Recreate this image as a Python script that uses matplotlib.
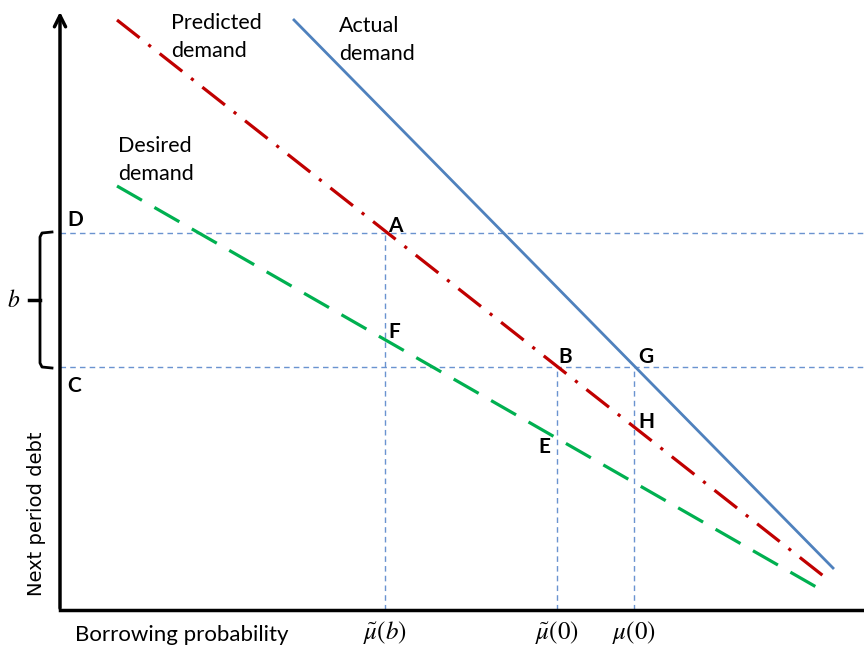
import numpy as np
import matplotlib.pyplot as plt

plt.rcParams["font.family"] = ["Lato", "DejaVu Sans"]
plt.rcParams["mathtext.fontset"] = "stix"

# coordinates: x from the y-axis, y from the x-axis (arbitrary units)
predicted_x = [57, 766]
predicted_y = [590, 32]
actual_x = [234, 773]
actual_y = [590, 42]
desired_x = [57, 758]
desired_y = [424, 22]

level_D = 377
level_C = 243
mu_tilde_b = 325
mu_tilde_0 = 497
mu_0 = 574
x_max = 804
y_max = 600

tick_pos = [mu_tilde_b, mu_tilde_0, mu_0]
tick_labels = [r"$\tilde{\mu}(b)$", r"$\tilde{\mu}(0)$", r"$\mu(0)$"]

point_names = ["D", "A", "F", "B", "G", "H", "E", "C"]
point_x = [7, 328, 328, 498, 578, 578, 478, 7]
point_y = [384, 378, 272, 247, 247, 182, 157, 218]

RED = "#C00000"
BLUE = "#4F81BD"
GREEN = "#00B050"
GUIDE = "#6A93D0"

fig = plt.figure(figsize=(8.64, 6.46), dpi=100)
ax = fig.add_axes([60 / 864, 36 / 646, 804 / 864, 600 / 646])
ax.set_xlim(0, x_max)
ax.set_ylim(0, y_max)
for s in ["top", "right", "left"]:
    ax.spines[s].set_visible(False)
ax.spines["bottom"].set_linewidth(2.5)
ax.set_xticks([])
ax.set_yticks([])

# y axis with arrow
ax.annotate("", xy=(0, y_max + 1), xytext=(0, -1),
            arrowprops=dict(arrowstyle="->", lw=2.5, color="black", mutation_scale=20),
            annotation_clip=False)

# guide lines
gkw = dict(color=GUIDE, lw=1.0, ls=(0, (4, 3)))
ax.plot([0, x_max], [level_D, level_D], **gkw, clip_on=False)
ax.plot([0, x_max], [level_C, level_C], **gkw, clip_on=False)
ax.plot([mu_tilde_b, mu_tilde_b], [0, level_D], **gkw)
ax.plot([mu_tilde_0, mu_tilde_0], [0, level_C], **gkw)
ax.plot([mu_0, mu_0], [0, level_C], **gkw)

# demand curves
ax.plot(actual_x, actual_y, color=BLUE, lw=2)
ax.plot(predicted_x, predicted_y, color=RED, lw=2.3, ls=(0, (9, 3.5, 1, 3.5)))
ax.plot(desired_x, desired_y, color=GREEN, lw=2.3, ls=(0, (9, 4.5)))

# curve labels
lkw = dict(fontsize=15.5, va="top", ha="left", linespacing=1.5)
ax.text(111, 597, "Predicted\ndemand", **lkw)
ax.text(279, 594, "Actual\ndemand", **lkw)
ax.text(58, 474, "Desired\ndemand", **lkw)

# point labels
for name, px, py in zip(point_names, point_x, point_y):
    ax.text(px, py, name, fontsize=15, fontweight="bold", va="baseline", ha="left")

# bracket for b
bx = -20
bmid = (level_D + level_C) / 2
ax.plot([bx + 12, bx + 2, bx, bx, bx + 2, bx + 12],
        [level_D + 1, level_D, level_D - 4, level_C + 4, level_C, level_C - 1],
        color="black", lw=2, clip_on=False, solid_joinstyle="round")
ax.plot([bx - 11, bx], [bmid, bmid], color="black", lw=2.5, clip_on=False)
ax.text(-46, bmid, r"$b$", fontsize=17, ha="center", va="center")

# axis labels
ax.text(-23, 96, "Next period debt", fontsize=14, rotation=90, ha="center", va="center",
        family="DejaVu Sans")
ax.text(122, -25, "Borrowing probability", fontsize=16, ha="center", va="center")
for p, lab in zip(tick_pos, tick_labels):
    ax.text(p, -22, lab, fontsize=18, ha="center", va="center")

fig.savefig("out.png", dpi=100)
